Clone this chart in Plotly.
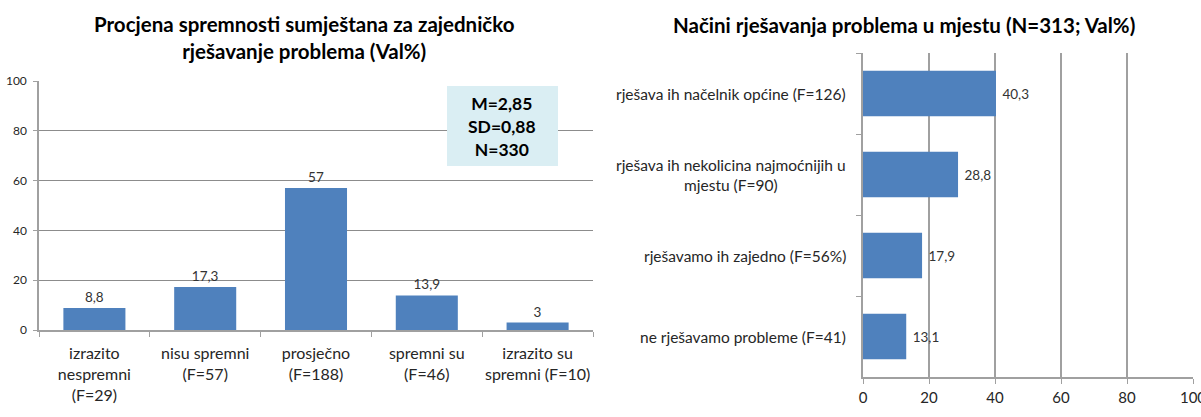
import plotly.graph_objects as go

# Left chart: readiness for joint problem solving (Val%)
readiness_labels = [
    "izrazito<br>nespremni<br>(F=29)",
    "nisu spremni<br>(F=57)",
    "prosječno<br>(F=188)",
    "spremni su<br>(F=46)",
    "izrazito su<br>spremni (F=10)",
]
readiness_values = [8.8, 17.3, 57, 13.9, 3]
stats_lines = ["M=2,85", "SD=0,88", "N=330"]

# Right chart: ways problems are solved (Val%)
ways_labels = [
    "rješava ih načelnik općine (F=126)",
    "rješava ih nekolicina najmoćnijih u<br>mjestu (F=90)",
    "rješavamo ih zajedno (F=56%)",
    "ne rješavamo probleme (F=41)",
]
ways_values = [40.3, 28.8, 17.9, 13.1]

axis_ticks = [0, 20, 40, 60, 80, 100]

FONT = "Lato"
BAR = "#4F81BD"
GRID = "#A0A0A0"
TXT = "#333333"
LAB = "#262626"


def fmt(v):
    s = f"{v:g}"
    return s.replace(".", ",")


W, H = 1201, 417

# left plot area in pixels
L_x0, L_x1, L_ytop, L_ybot = 39, 593, 81, 330
# right plot area in pixels
R_x0, R_x1, R_ytop, R_ybot = 863, 1193, 53, 377


def px_x(p):
    return p / W


def px_y(p):
    return 1 - p / H


fig = go.Figure()

fig.add_trace(go.Bar(
    x=readiness_labels, y=readiness_values,
    text=[fmt(v) for v in readiness_values],
    textposition="outside", cliponaxis=False,
    textfont=dict(family=FONT, size=13.5, color=TXT),
    marker=dict(color=BAR, line=dict(width=0)),
    xaxis="x", yaxis="y", showlegend=False, hoverinfo="skip",
))

fig.add_trace(go.Bar(
    y=ways_labels, x=ways_values, orientation="h",
    text=[" " + fmt(v) for v in ways_values],
    textposition="outside", cliponaxis=False,
    textfont=dict(family=FONT, size=13.5, color=TXT),
    marker=dict(color=BAR, line=dict(width=0)),
    xaxis="x2", yaxis="y2", showlegend=False, hoverinfo="skip",
))

fig.update_layout(
    width=W, height=H,
    margin=dict(l=0, r=0, t=0, b=0, autoexpand=False),
    paper_bgcolor="white", plot_bgcolor="white",
    bargap=0.44,
    font=dict(family=FONT, color=TXT),
    xaxis=dict(
        domain=[px_x(L_x0), px_x(L_x1)], anchor="y",
        type="category", tickson="boundaries",
        ticks="outside", ticklen=5, tickcolor=GRID,
        ticklabelstandoff=8, tickangle=0, automargin=False,
        showline=True, linecolor=GRID, linewidth=1.5,
        showgrid=False,
        tickfont=dict(family=FONT, size=16, color=LAB),
    ),
    yaxis=dict(
        domain=[px_y(L_ybot), px_y(L_ytop)], anchor="x",
        range=[0, 100], tickvals=axis_ticks,
        ticks="outside", ticklen=4, tickcolor=GRID,
        ticklabelstandoff=4, automargin=False,
        showline=True, linecolor=GRID, linewidth=1.5,
        showgrid=True, gridcolor="#8C8C8C", gridwidth=1,
        zeroline=False,
        tickfont=dict(family=FONT, size=12, color=LAB),
    ),
    xaxis2=dict(
        domain=[px_x(R_x0), px_x(R_x1)], anchor="y2",
        range=[0, 100], tickvals=axis_ticks,
        ticks="outside", ticklen=5, tickcolor=GRID,
        ticklabelstandoff=1, ticklabeloverflow="allow", automargin=False,
        showline=True, linecolor=GRID, linewidth=1.5,
        showgrid=True, gridcolor=GRID, gridwidth=1.5,
        zeroline=False,
        tickfont=dict(family=FONT, size=15, color=LAB),
    ),
    yaxis2=dict(
        domain=[px_y(R_ybot), px_y(R_ytop)], anchor="x2",
        type="category", autorange="reversed", tickson="boundaries",
        ticks="outside", ticklen=5, tickcolor=GRID, automargin=False,
        showline=True, linecolor=GRID, linewidth=1.5,
        showgrid=False, showticklabels=False,
    ),
)

# category labels on the right chart, centred per line
for lab in ways_labels:
    fig.add_annotation(
        xref="paper", yref="y2", x=px_x(848), y=lab,
        text=lab, showarrow=False, xanchor="right", yanchor="middle",
        align="center", font=dict(family=FONT, size=15.5, color=LAB),
    )

# titles
fig.add_annotation(
    xref="paper", yref="paper", x=px_x(304), y=px_y(38),
    text="<b>Procjena spremnosti sumještana za zajedničko<br>rješavanje problema (Val%)</b>",
    showarrow=False, xanchor="center", yanchor="middle", align="center",
    font=dict(family=FONT, size=20.5, color="black"),
)
fig.add_annotation(
    xref="paper", yref="paper", x=px_x(904), y=px_y(25),
    text="<b>Načini rješavanja problema u mjestu (N=313; Val%)</b>",
    showarrow=False, xanchor="center", yanchor="middle",
    font=dict(family=FONT, size=20.5, color="black"),
)

# statistics box
fig.add_shape(
    type="rect", xref="paper", yref="paper",
    x0=px_x(447), x1=px_x(558), y0=px_y(166), y1=px_y(86),
    fillcolor="#DAEEF3", line=dict(width=0), layer="above",
)
fig.add_annotation(
    xref="paper", yref="paper", x=px_x(502), y=px_y(126),
    text="<b>" + "<br>".join(stats_lines) + "</b>",
    showarrow=False, xanchor="center", yanchor="middle", align="center",
    font=dict(family=FONT, size=17.5, color="black"),
)

fig.write_html("out.html")
